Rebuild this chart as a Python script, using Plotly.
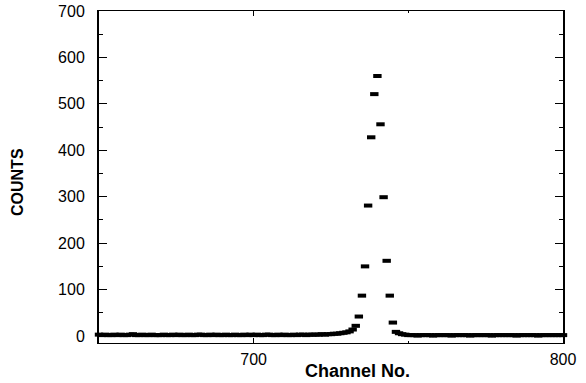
import plotly.graph_objects as go

channels = list(range(650, 801))

counts_left = [
    3, 2, 3, 2, 2, 3, 2, 3, 2, 2,
    3, 4, 2, 2, 3, 2, 2, 3, 2, 2,
    2, 3, 2, 2, 3, 2, 3, 2, 2, 3,
    2, 2, 3, 3, 2, 2, 3, 2, 3, 2,
    2, 3, 2, 2, 3, 2, 2, 3, 2, 3,
    2, 3, 2, 2, 3, 3, 2, 2, 3, 2,
    3, 2, 2, 3, 2, 3, 3, 2, 3, 3,
    3, 3, 4, 3, 4, 4, 5, 5, 6,
]  # 650-728
counts_peak = [7, 8, 10, 14, 22, 42, 87, 150, 281, 428, 521, 560, 456,
               299, 162, 87, 29, 9, 6, 4, 3]  # 729-749
counts_right = [
    2, 2, 2, 1, 2, 2, 2, 2, 1, 2,
    2, 2, 2, 2, 1, 2, 2, 2, 2, 2,
    1, 2, 2, 2, 2, 2, 2, 1, 2, 2,
    2, 2, 2, 2, 2, 1, 2, 2, 2, 2,
    2, 2, 1, 2, 2, 2, 2, 2, 2, 2,
    2,
]  # 750-800
counts = counts_left + counts_peak + counts_right

y_ticks = [0, 100, 200, 300, 400, 500, 600, 700]
x_ticks = [700, 800]

fig = go.Figure()
fig.add_trace(go.Scatter(
    x=channels, y=counts, mode="markers",
    marker=dict(symbol="line-ew", size=6, color="black",
                line=dict(color="black", width=4)),
    cliponaxis=False, showlegend=False,
))

tick_font = dict(family="Liberation Sans, Arial, sans-serif", size=16, color="black")

fig.update_layout(
    width=586, height=383,
    margin=dict(l=99, r=23, t=11, b=40, autoexpand=False),
    paper_bgcolor="white", plot_bgcolor="white",
    xaxis=dict(
        range=[650, 800], tickvals=x_ticks, ticktext=[str(v) for v in x_ticks],
        ticks="inside", ticklen=5, tickwidth=1, tickcolor="black",
        minor=dict(dtick=50, tick0=650, ticks="inside", ticklen=2, tickcolor="black"),
        showline=True, linecolor="black", linewidth=1, mirror="ticks",
        showgrid=False, zeroline=False, tickfont=tick_font,
        ticklabelstandoff=2, automargin=False,
    ),
    yaxis=dict(
        range=[-15, 700], tickvals=y_ticks, ticktext=[str(v) for v in y_ticks],
        ticks="inside", ticklen=8, tickwidth=1, tickcolor="black",
        minor=dict(dtick=50, tick0=0, ticks="inside", ticklen=4, tickcolor="black"),
        showline=True, linecolor="black", linewidth=2, mirror="ticks",
        showgrid=False, zeroline=False, tickfont=tick_font,
        ticklabelstandoff=9, automargin=False,
    ),
    annotations=[
        dict(text="<b>COUNTS</b>", xref="paper", yref="paper", x=0, y=0.5,
             xanchor="center", yanchor="middle", xshift=-82, yshift=-5,
             textangle=-90, showarrow=False,
             font=dict(family="Liberation Sans Narrow, Arial Narrow, Liberation Sans, sans-serif",
                       size=16, color="black")),
        dict(text="<b>Channel No.</b>", xref="paper", yref="paper", x=0.5, y=0,
             xanchor="center", yanchor="top", xshift=26, yshift=-16,
             showarrow=False,
             font=dict(family="Liberation Sans, Arial, sans-serif", size=18, color="black")),
    ],
)

fig.write_html("out.html")
